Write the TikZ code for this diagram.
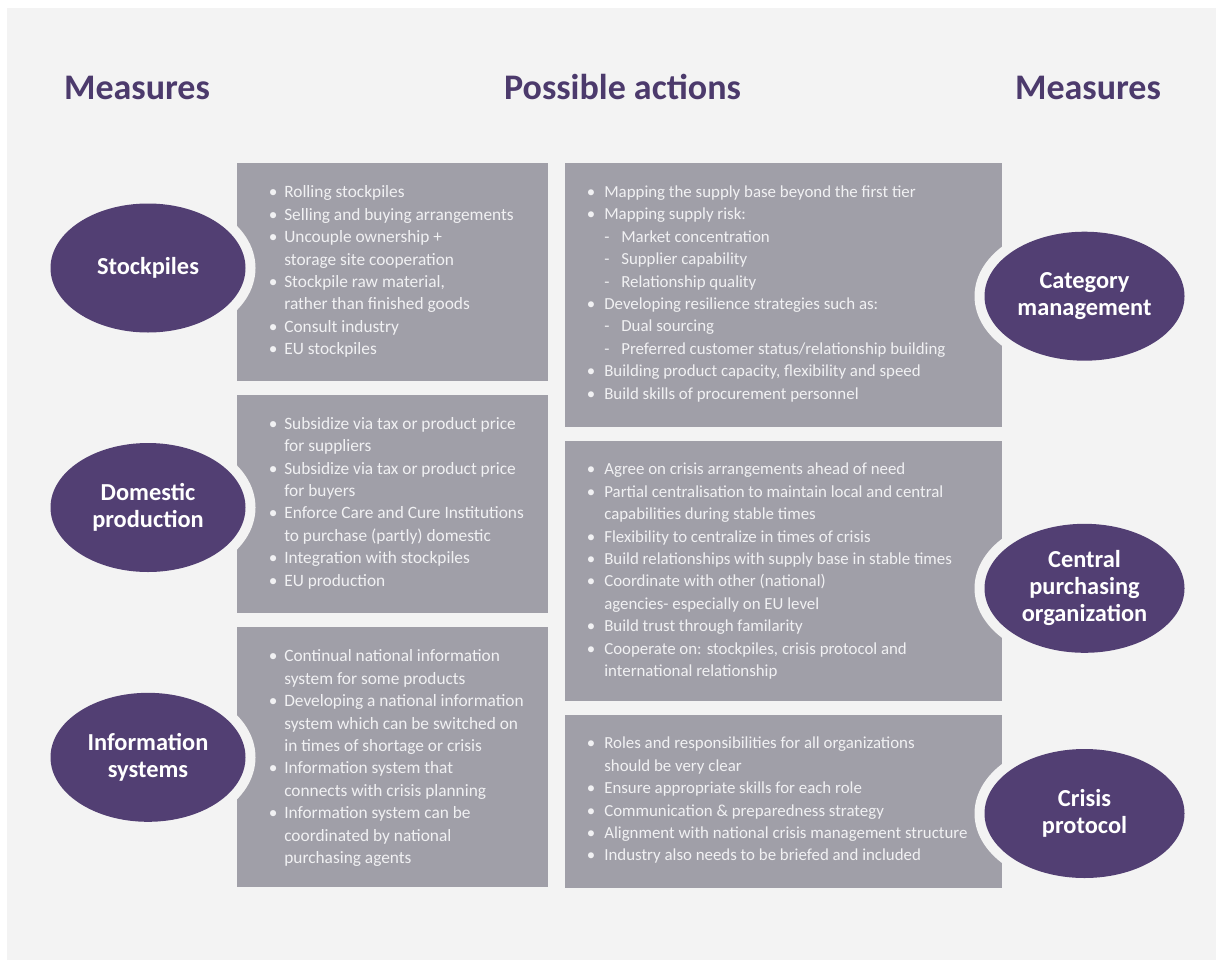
\documentclass[tikz,border=0pt]{standalone}
\usepackage{fontspec}
\setmainfont{Carlito}
\usetikzlibrary{shapes.geometric}
\definecolor{bgc}{RGB}{243,243,243}
\definecolor{purp}{RGB}{82,63,115}
\definecolor{titlec}{RGB}{76,58,108}
\definecolor{boxc}{RGB}{160,159,168}
\definecolor{txtc}{RGB}{241,241,243}
\newcommand{\bl}{\makebox[11.5pt][l]{•}}
\newcommand{\cl}{\hspace*{11.5pt}}
\newcommand{\br}{\makebox[13pt][l]{•}}
\newcommand{\contR}{\hspace*{13pt}}
\newcommand{\sr}{\hspace*{13pt}\makebox[12.75pt][l]{-}}
\tikzset{
  title/.style={anchor=base, text=titlec, inner sep=0, font=\bfseries\fontsize{27}{32}\selectfont},
  lbox/.style={fill=boxc, anchor=north west, inner sep=0, minimum width=233.25pt},
  rbox/.style={fill=boxc, anchor=north west, inner sep=0, minimum width=327.75pt},
  txt/.style={anchor=north west, inner sep=0, align=left, text=txtc,
    font=\fontsize{13}{16.8}\selectfont, execute at begin node={\rule{0pt}{12pt}}},
  rtxt/.style={txt, font=\fontsize{12.65}{16.8}\selectfont},
  ell/.style={ellipse, fill=purp, inner sep=0, minimum height=96.75pt,
    preaction={draw=bgc, line width=15pt}, text=white, align=center,
    font=\bfseries\fontsize{18.3}{20.25}\selectfont},
  lell/.style={ell, minimum width=146.25pt},
  rell/.style={ell, minimum width=150pt}
}
\begin{document}
\begin{tikzpicture}[x=0.75pt,y=-0.75pt]
\useasboundingbox (0,0) rectangle (1216,960);
\fill[white] (0,0) rectangle (1216,960);
\fill[bgc] (7,8) rectangle (1216,960);

% titles
\node[title] (tl) at (137,99.5) {Measures};
\node[title] (tc) at (622.5,99.5) {Possible actions};
\node[title] (tr) at (1088,99.5) {Measures};

% boxes
\node[lbox, minimum height=163.5pt] (L1) at (237,163) {};
\node[lbox, minimum height=163.5pt] (L2) at (237,395) {};
\node[lbox, minimum height=195pt] (L3) at (237,627) {};
\node[rbox, minimum height=198pt] (R1) at (565,163) {};
\node[rbox, minimum height=195pt] (R2) at (565,441) {};
\node[rbox, minimum height=129.75pt] (R3) at (565,715) {};

% box texts
\node[txt] (tL1) at (268.7,185.5) {\bl Rolling stockpiles\\
\bl Selling and buying arrangements\\
\bl Uncouple ownership +\\
\cl storage site cooperation\\
\bl Stockpile raw material,\\
\cl rather than finished goods\\
\bl Consult industry\\
\bl EU stockpiles};

\node[txt] (tL2) at (268.7,417) {\bl Subsidize via tax or product price\\
\cl for suppliers\\
\bl Subsidize via tax or product price\\
\cl for buyers\\
\bl Enforce Care and Cure Institutions\\
\cl to purchase (partly) domestic\\
\bl Integration with stockpiles\\
\bl EU production};

\node[txt] (tL3) at (268.7,649.5) {\bl Continual national information\\
\cl system for some products\\
\bl Developing a national information\\
\cl system which can be switched on\\
\cl in times of shortage or crisis\\
\bl Information system that\\
\cl connects with crisis planning\\
\bl Information system can be\\
\cl coordinated by national\\
\cl purchasing agents};

\node[rtxt] (tR1) at (586.7,185.5) {\br Mapping the supply base beyond the first tier\\
\br Mapping supply risk:\\
\sr Market concentration\\
\sr Supplier capability\\
\sr Relationship quality\\
\br Developing resilience strategies such as:\\
\sr Dual sourcing\\
\sr Preferred customer status/relationship building\\
\br Building product capacity, flexibility and speed\\
\br Build skills of procurement personnel};

\node[rtxt] (tR2) at (586.7,463) {\br Agree on crisis arrangements ahead of need\\
\br Partial centralisation to maintain local and central\\
\contR capabilities during stable times\\
\br Flexibility to centralize in times of crisis\\
\br Build relationships with supply base in stable times\\
\br Coordinate with other (national)\\
\contR agencies- especially on EU level\\
\br Build trust through familarity\\
\br Cooperate on: stockpiles, crisis protocol and\\
\contR international relationship};

\node[rtxt] (tR3) at (586.7,737) {\br Roles and responsibilities for all organizations\\
\contR should be very clear\\
\br Ensure appropriate skills for each role\\
\br Communication \& preparedness strategy\\
\br Alignment with national crisis management structure\\
\br Industry also needs to be briefed and included};

% ellipses
\node[lell] (e1) at (148,268) {Stockpiles};
\node[lell] (e2) at (148,507.5) {Domestic\\production};
\node[lell] (e3) at (148,757.3) {Information\\systems};
\node[rell] (e4) at (1084.5,296.2) {Category\\management};
\node[rell] (e5) at (1084.5,588.3) {Central\\purchasing\\organization};
\node[rell] (e6) at (1084.5,813.5) {Crisis\\protocol};
\end{tikzpicture}
\end{document}
